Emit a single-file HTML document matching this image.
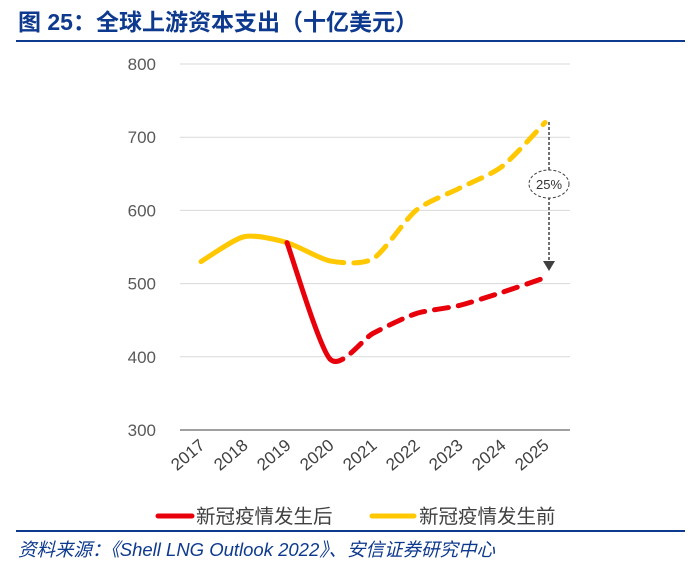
<!DOCTYPE html>
<html><head><meta charset="utf-8"><style>
body{margin:0;background:#fff;width:700px;height:566px;overflow:hidden;font-family:"Liberation Sans","Noto Sans CJK SC",sans-serif}
</style></head><body>
<svg width="700" height="566" xmlns="http://www.w3.org/2000/svg">
<text x="18" y="30" font-size="23" font-weight="bold" fill="#0d3a8e" font-family="Liberation Sans,Noto Sans CJK SC,sans-serif">图 25：全球上游资本支出（十亿美元）</text>
<line x1="16" y1="41" x2="685" y2="41" stroke="#0d3a8e" stroke-width="2"/>
<g id="grid"></g><g id="ylab"></g><g id="xlab"></g><g id="series"></g>
<g>
<line x1="549" y1="122" x2="549" y2="262" stroke="#404040" stroke-width="1.5" stroke-dasharray="3,2"/>
<polygon points="543,261 555,261 549,271" fill="#404040"/>
<ellipse cx="549" cy="184" rx="20" ry="14" fill="#fff" stroke="#404040" stroke-width="1" stroke-dasharray="3,2"/>
<text x="549" y="189" font-size="13" text-anchor="middle" fill="#333">25%</text>
</g>
<g>
<line x1="158" y1="516" x2="192" y2="516" stroke="#e8000b" stroke-width="5" stroke-linecap="round"/>
<text x="196" y="523" font-size="19.5" fill="#404040">新冠疫情发生后</text>
<line x1="372" y1="516" x2="414" y2="516" stroke="#ffc800" stroke-width="5" stroke-linecap="round"/>
<text x="419" y="523" font-size="19.5" fill="#404040">新冠疫情发生前</text>
</g>
<line x1="16" y1="531" x2="685" y2="531" stroke="#0d3a8e" stroke-width="2"/>
<text x="18" y="556" font-size="18.5" font-style="italic" fill="#0d3a8e">资料来源：《Shell LNG Outlook 2022》、安信证券研究中心</text>
</svg>
<script>
const categories=["2017","2018","2019","2020","2021","2022","2023","2024","2025"];
const beforeValues=[530,564,556,531,534,600,630,660,720];
const afterValues=[null,null,556,397,432,459,470,488,508];
const yTicks=[300,400,500,600,700,800];
const NS="http://www.w3.org/2000/svg";
const x=i=>201+i*43;
const y=v=>430-(v-300)*0.732;
function mk(t,a,p){const e=document.createElementNS(NS,t);for(const k in a)e.setAttribute(k,a[k]);p.appendChild(e);return e;}
const grid=document.getElementById('grid'),yl=document.getElementById('ylab'),xl=document.getElementById('xlab'),ser=document.getElementById('series');
yTicks.forEach(v=>{
  const g=mk('line',{x1:180,x2:570,y1:y(v),y2:y(v),stroke:v===300?'#808080':'#d9d9d9','stroke-width':v===300?1.5:1},grid);
  
  
  const t=mk('text',{x:156,y:y(v)+6,'font-size':17,'text-anchor':'end',fill:'#595959'},yl);t.textContent=v;
  
  
});
categories.forEach((c,i)=>{
  const t=mk('text',{x:x(i)+5,y:447,'font-size':17,'text-anchor':'end',fill:'#404040',transform:`rotate(-40 ${x(i)+5} 447)`},xl);t.textContent=c;
  
  
});
function seg(pts,i){const k=8;const p0=pts[Math.max(i-1,0)],p1=pts[i],p2=pts[i+1],p3=pts[Math.min(i+2,pts.length-1)];
 return `C${p1[0]+(p2[0]-p0[0])/k},${p1[1]+(p2[1]-p0[1])/k} ${p2[0]-(p3[0]-p1[0])/k},${p2[1]-(p3[1]-p1[1])/k} ${p2[0]},${p2[1]}`;}
function draw(vals,color,solidEnd,name){
  const idx=[];vals.forEach((v,i)=>{if(v!==null)idx.push(i)});
  const pts=idx.map(i=>[x(i),y(vals[i])]);
  let d1='M'+pts[0].join(','),d2='';
  for(let k=0;k<pts.length-1;k++){
    if(idx[k+1]<=solidEnd)d1+=seg(pts,k);
    else{if(!d2)d2='M'+pts[k].join(',');d2+=seg(pts,k);}
  }
  const a=mk('path',{d:d1,fill:'none',stroke:color,'stroke-width':5,'stroke-linecap':'round'},ser);
  
  
  const b=mk('path',{d:d2,fill:'none',stroke:color,'stroke-width':5,'stroke-linecap':'round','stroke-dasharray':'14,10'},ser);
  
  
}
draw(beforeValues,'#ffc800',3,'series-before');
draw(afterValues,'#e8000b',3,'series-after');
</script>
</body></html>
